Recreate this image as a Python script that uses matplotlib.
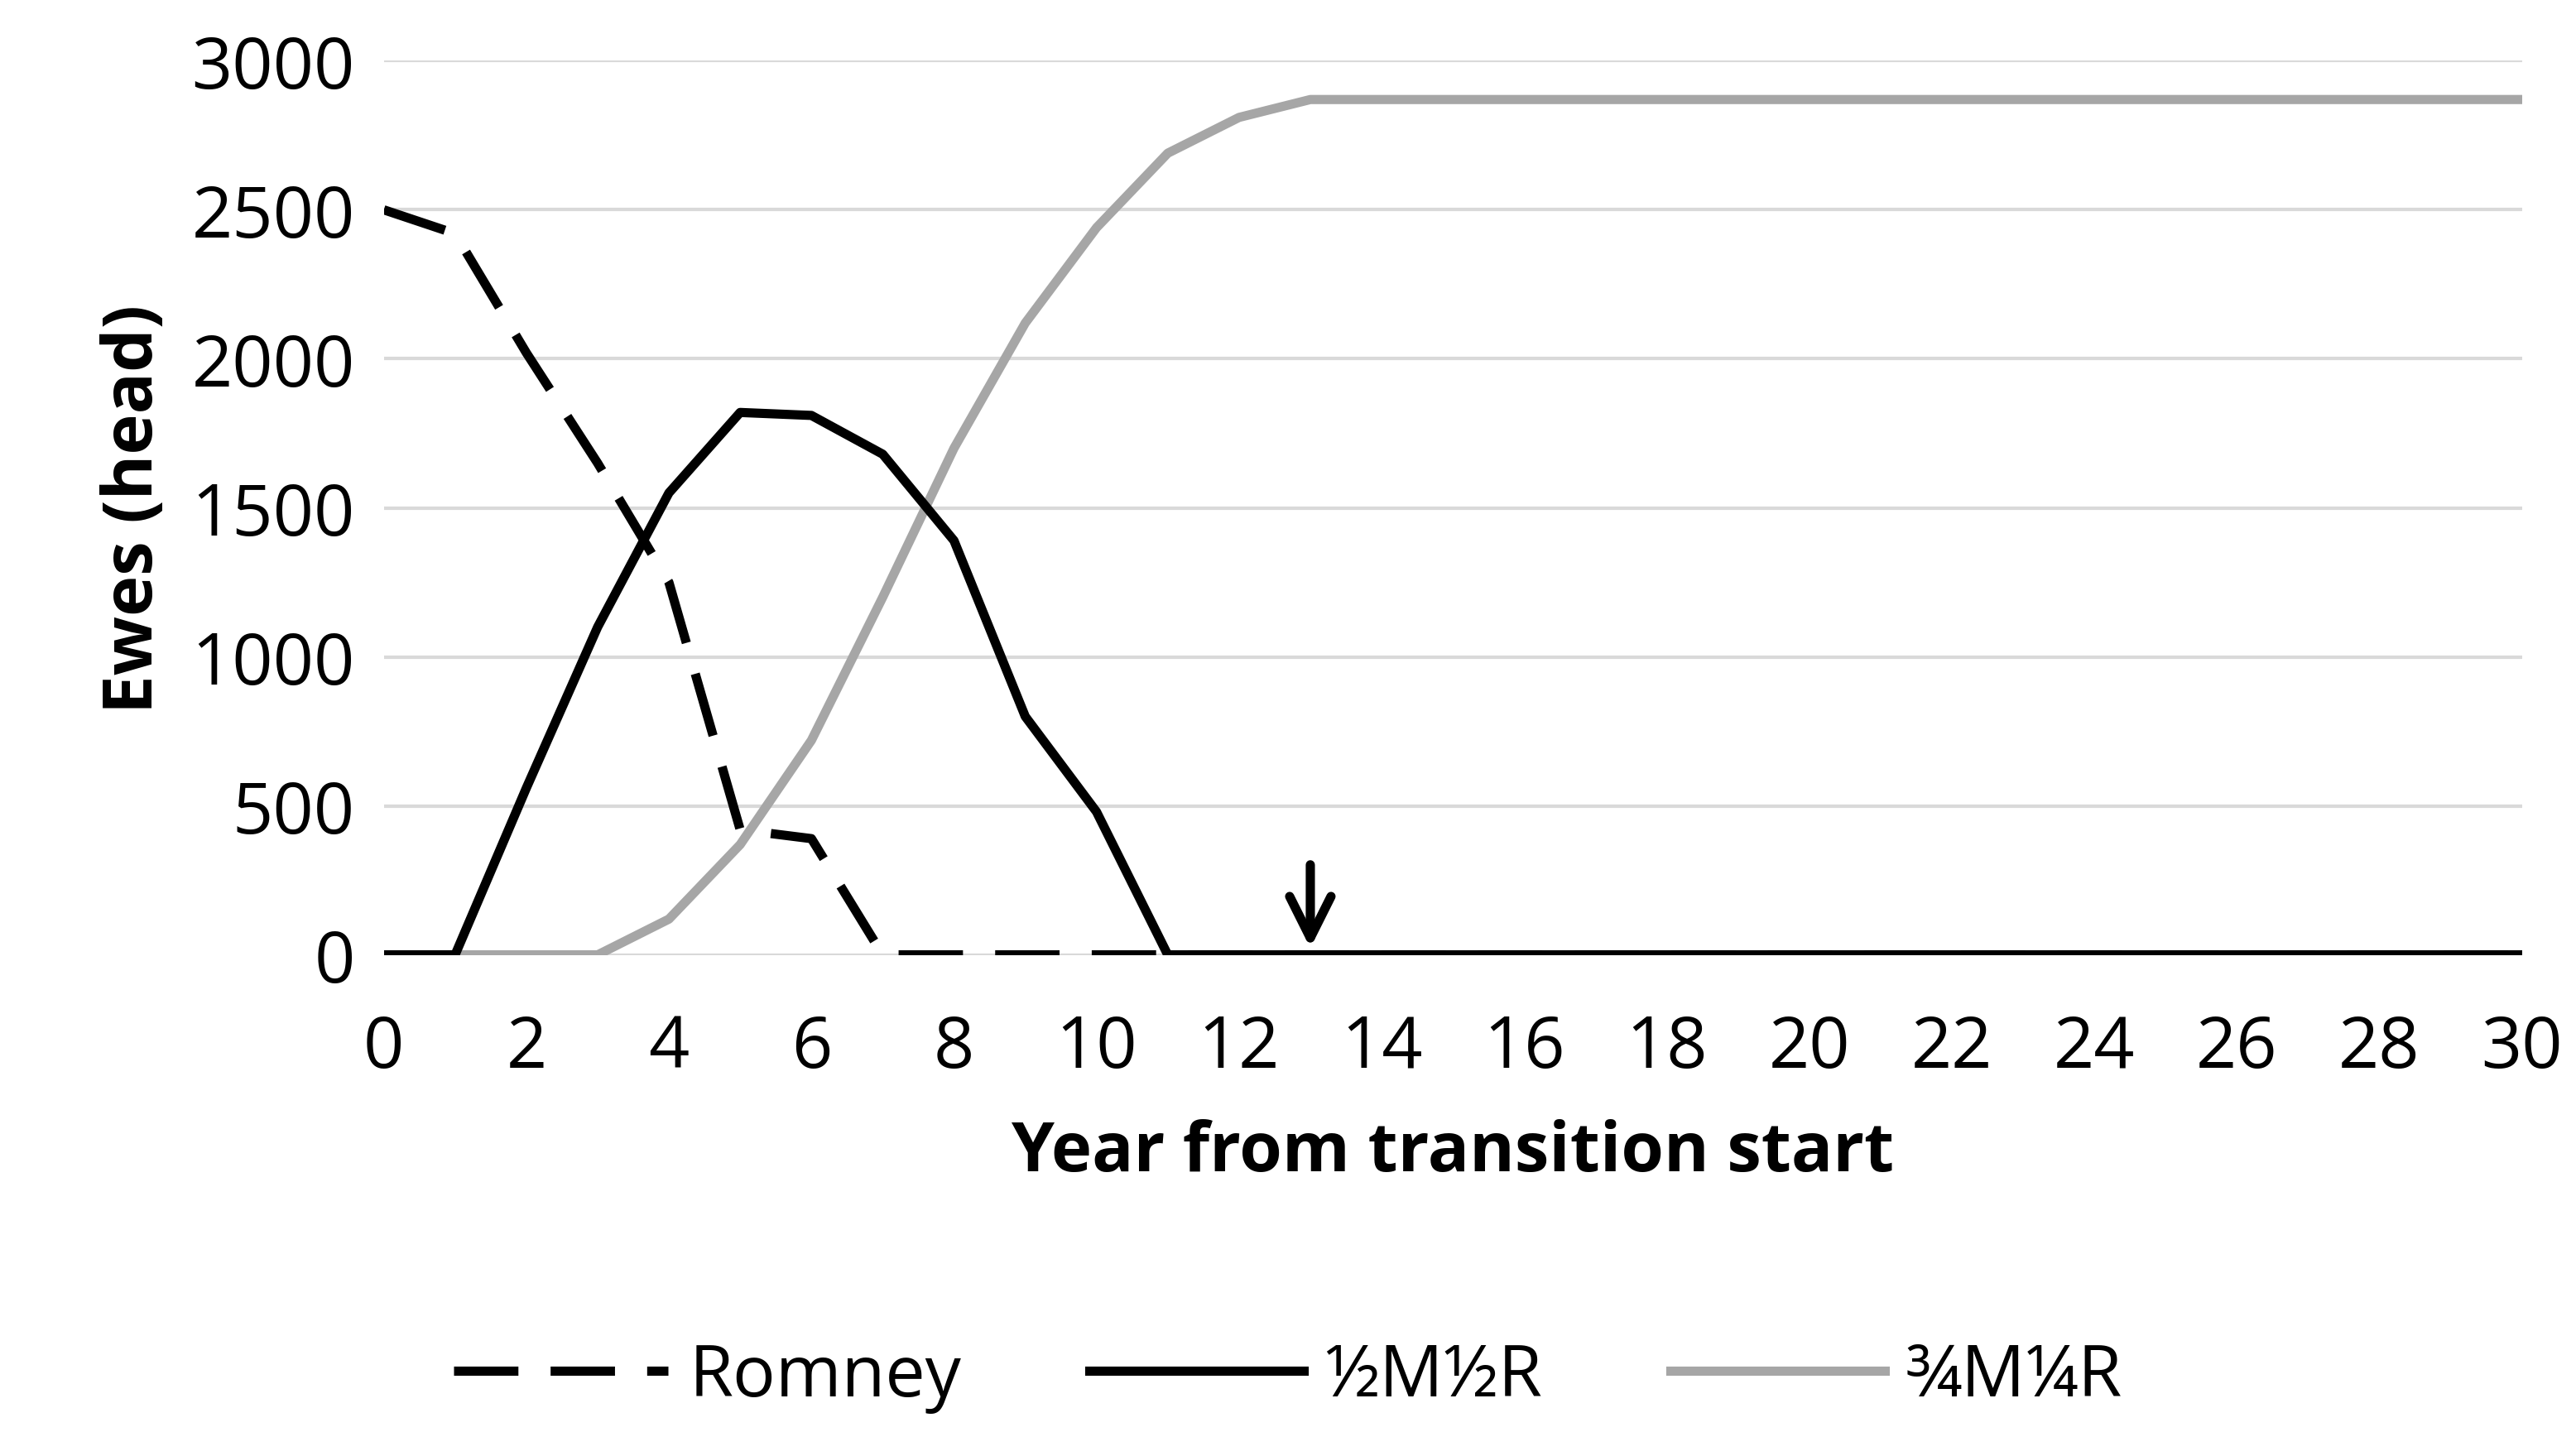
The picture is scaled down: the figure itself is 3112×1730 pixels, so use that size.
import matplotlib.pyplot as plt
import numpy as np

plt.rcParams['font.family'] = ['Open Sans', 'DejaVu Sans']

years = list(range(0, 31))
romney = [2500, 2420, 2020, 1650, 1250, 420, 390, 0] + [0] * 23
half = [0, 0, 560, 1100, 1550, 1820, 1810, 1680, 1390, 800, 480, 0] + [0] * 19
three_q = [0, 0, 0, 0, 120, 370, 720, 1200, 1700, 2120, 2440, 2690, 2810, 2870] + [2870] * 17

fig = plt.figure(figsize=(31.12, 17.31), dpi=100)
ax = fig.add_axes([0.149, 0.333, 0.83, 0.624])

ax.plot(years, three_q, color='#a6a6a6', lw=8, label='¾M¼R', zorder=2)
ax.plot(years, romney, color='black', lw=8, dashes=(7, 3.5), label='Romney', zorder=3)
ax.plot(years, half, color='black', lw=8, label='½M½R', zorder=4)

ax.annotate('', xy=(13, 15), xytext=(13, 310),
            arrowprops=dict(arrowstyle='->', lw=8, color='black', mutation_scale=90))

ax.set_xlim(0, 30)
ax.set_ylim(0, 3000)
ax.set_xticks(range(0, 31, 2))
ax.set_yticks(range(0, 3001, 500))
ax.grid(axis='y', color='#d9d9d9', lw=3)
ax.set_axisbelow(True)
for s in ax.spines.values():
    s.set_visible(False)
ax.tick_params(length=0, labelsize=62)
ax.tick_params(axis='x', pad=50)
ax.tick_params(axis='y', pad=25)
ax.set_xlabel('Year from transition start', fontsize=60, fontweight='bold', labelpad=30)
ax.set_ylabel('Ewes (head)', fontsize=60, fontweight='bold', labelpad=20)

h, l = ax.get_legend_handles_labels()
order = [1, 2, 0]
fig.legend([h[i] for i in order], [l[i] for i in order], loc='center',
           bbox_to_anchor=(0.5, 0.038), ncol=3, frameon=False, fontsize=62,
           handlelength=3.0, handletextpad=0.3, columnspacing=1.8)

fig.savefig('out.png')
